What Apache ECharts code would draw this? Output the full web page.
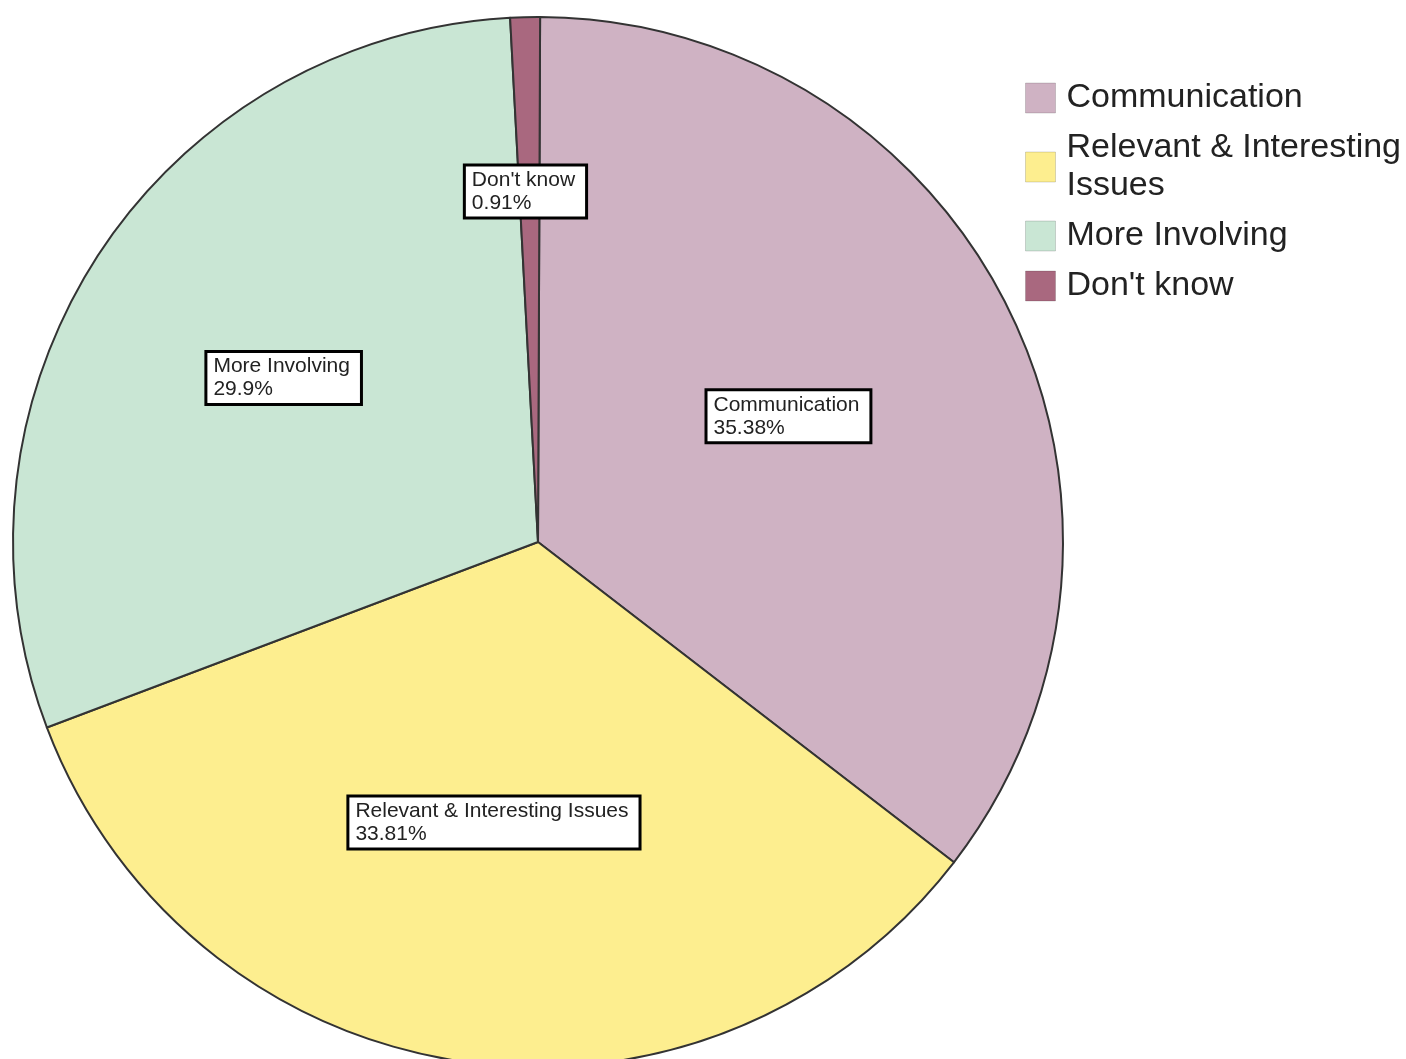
<!DOCTYPE html>
<html>
<head>
<meta charset="utf-8">
<script src="https://cdn.jsdelivr.net/npm/echarts@6/dist/echarts.min.js"></script>
<style>
  html, body { margin: 0; padding: 0; background: #fff; }
  #main { width: 1406px; height: 1059px; }
</style>
</head>
<body>
<div id="main"></div>
<script>
// Data
const names = ['Communication', 'Relevant & Interesting Issues', 'More Involving', "Don't know"];
const values = [35.38, 33.81, 29.9, 0.91];
const COLORS = ['#cfb2c3', '#fdee8f', '#c9e6d4', '#a9687f'];

// label box nudges (px) from the default inside position
const LABEL_SHIFT = [[15, -9], [-2, 18], [-29, -19], [-3, -85]];

var chartDom = document.getElementById('main');
var myChart = echarts.init(chartDom);

var option = {
  animation: false,
  color: COLORS,
  legend: {
    orient: 'vertical',
    left: 1020,
    top: 74,
    itemWidth: 30,
    itemHeight: 30,
    itemGap: 12,
    icon: 'rect',
    itemStyle: { borderColor: 'rgba(0,0,0,0.15)', borderWidth: 1 },
    formatter: function (name) {
      return name === 'Relevant & Interesting Issues' ? 'Relevant & Interesting\nIssues' : name;
    },
    textStyle: {
      fontFamily: 'Liberation Sans',
      fontSize: 34,
      lineHeight: 38,
      color: '#222',
      padding: [0, 0, 0, 6]
    },
    data: names
  },
  series: [{
    type: 'pie',
    center: [538, 542],
    radius: 525,
    startAngle: 89.77,
    clockwise: true,
    itemStyle: { borderColor: '#333', borderWidth: 2 },
    label: {
      position: 'inside',
      formatter: '{b}\n{d}%',
      fontFamily: 'Liberation Sans',
      fontSize: 21,
      lineHeight: 23,
      color: '#222',
      backgroundColor: '#fff',
      borderColor: '#000',
      borderWidth: 3,
      padding: [2, 10, 2, 6]
    },
    labelLayout: function (params) {
      const r = params.labelRect;
      const s = LABEL_SHIFT[params.dataIndex];
      return {
        x: r.x + s[0],
        y: r.y + r.height / 2 + s[1],
        align: 'left',
        verticalAlign: 'middle'
      };
    },
    labelLine: { show: false },
    data: names.map((n, i) => ({ name: n, value: values[i] }))
  }]
};

option && myChart.setOption(option);
</script>
</body>
</html>
